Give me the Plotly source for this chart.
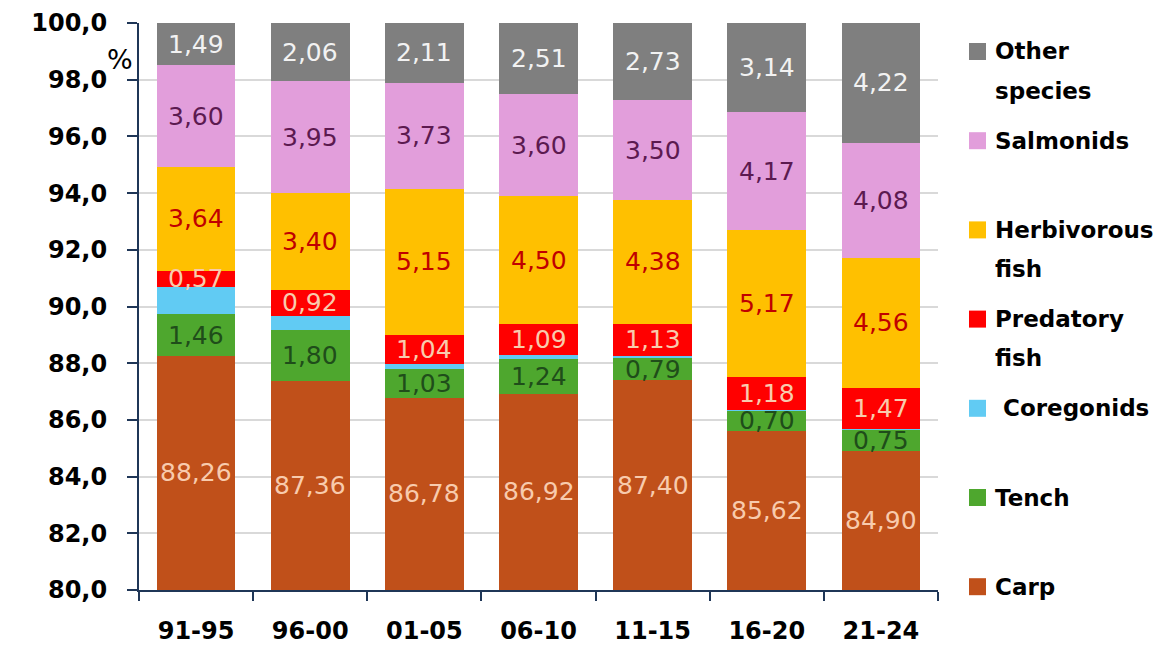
import plotly.graph_objects as go

periods = ["91-95", "96-00", "01-05", "06-10", "11-15", "16-20", "21-24"]
carp = [88.26, 87.36, 86.78, 86.92, 87.40, 85.62, 84.90]
tench = [1.46, 1.80, 1.03, 1.24, 0.79, 0.70, 0.75]
coregonids = [0.98, 0.51, 0.16, 0.14, 0.07, 0.02, 0.02]
predatory = [0.57, 0.92, 1.04, 1.09, 1.13, 1.18, 1.47]
herbivorous = [3.64, 3.40, 5.15, 4.50, 4.38, 5.17, 4.56]
salmonids = [3.60, 3.95, 3.73, 3.60, 3.50, 4.17, 4.08]
other = [1.49, 2.06, 2.11, 2.51, 2.73, 3.14, 4.22]

series = [
    ("Carp", carp, "#c0501a", "#f8cbad", True),
    ("Tench", tench, "#4ea72e", "#1f4d1a", True),
    ("Coregonids", coregonids, "#61cbf3", None, False),
    ("Predatory fish", predatory, "#ff0000", "#f8cbad", True),
    ("Herbivorous fish", herbivorous, "#ffc000", "#c00000", True),
    ("Salmonids", salmonids, "#e29edb", "#5c1a50", True),
    ("Other species", other, "#7f7f7f", "#f2f2f2", True),
]
legend_labels = ["Other<br>species", "Salmonids", "Herbivorous<br>fish", "Predatory<br>fish",
                 " Coregonids", "Tench", "Carp"]

FONT = "DejaVu Sans"
fig = go.Figure()
cum = [0.0] * len(periods)
annotations = []
for name, vals, color, tcolor, show in series:
    fig.add_trace(go.Bar(x=periods, y=vals, name=name, marker=dict(color=color, line=dict(width=0)),
                         showlegend=False, hoverinfo="x+y+name"))
    if show:
        for i, v in enumerate(vals):
            lo = max(cum[i], 80)
            annotations.append(dict(x=periods[i], y=lo + (cum[i] + v - lo) / 2,
                                    xref="x", yref="y", text=f"{v:.2f}".replace(".", ","),
                                    showarrow=False, font=dict(family=FONT, size=25, color=tcolor)))
    cum = [c + v for c, v in zip(cum, vals)]

# page body has an 8px margin; screen coordinates of the plot area
OFF = 8
L, R, T, B = 139, 938, 23, 590
W, H = R - L, B - T
legend_colors = ["#7f7f7f", "#e29edb", "#ffc000", "#ff0000", "#61cbf3", "#4ea72e", "#c0501a"]
shapes = []
for k, (lab, col) in enumerate(zip(legend_labels, legend_colors)):
    yc = 51.5 + k * 89.2
    shapes.append(dict(type="rect", xref="paper", yref="paper",
                       x0=(969 - L) / W, x1=(986 - L) / W,
                       y0=(B - (yc + 8.5)) / H, y1=(B - (yc - 8.5)) / H,
                       fillcolor=col, line=dict(width=0)))
    lines = lab.split("<br>")
    for j, ln in enumerate(lines):
        annotations.append(dict(x=(993 - L) / W, y=(B - (yc + j * 39)) / H, xref="paper", yref="paper",
                                xanchor="left", yanchor="middle", text=f"<b>{ln}</b>", showarrow=False,
                                font=dict(family=FONT, size=23, color="#000000")))

annotations.append(dict(x=(120 - L) / W, y=(B - 59) / H, xref="paper", yref="paper",
                        xanchor="center", yanchor="middle",
                        text="%", showarrow=False, font=dict(family=FONT, size=27, color="#000000")))

fig.update_layout(
    barmode="stack", bargap=0.31,
    width=1167, height=648,
    margin=dict(l=L - OFF, r=1167 - (R - OFF), t=T - OFF, b=648 - (B - OFF), autoexpand=False),
    plot_bgcolor="white", paper_bgcolor="white",
    separators=", ",
    annotations=annotations, shapes=shapes,
    showlegend=False,
    font=dict(family=FONT, color="#000000"),
)
fig.update_yaxes(range=[80, 100], dtick=2, tickformat=".1f", automargin=False,
                 showgrid=True, gridcolor="#d9d9d9", gridwidth=2,
                 showline=True, linecolor="#1f3657", linewidth=2,
                 ticks="outside", ticklen=10, tickwidth=2, tickcolor="#1f3657",
                 ticklabelstandoff=15,
                 tickfont=dict(family=FONT, size=24, color="#000000", weight="bold"),
                 zeroline=False)
fig.update_xaxes(type="category", automargin=False,
                 showline=True, linecolor="#1f3657", linewidth=2, mirror=False,
                 ticks="outside", tickson="boundaries", ticklen=9, tickwidth=2, tickcolor="#1f3657",
                 ticklabelstandoff=18,
                 tickfont=dict(family=FONT, size=24, color="#000000", weight="bold"))

fig.write_html("out.html")
